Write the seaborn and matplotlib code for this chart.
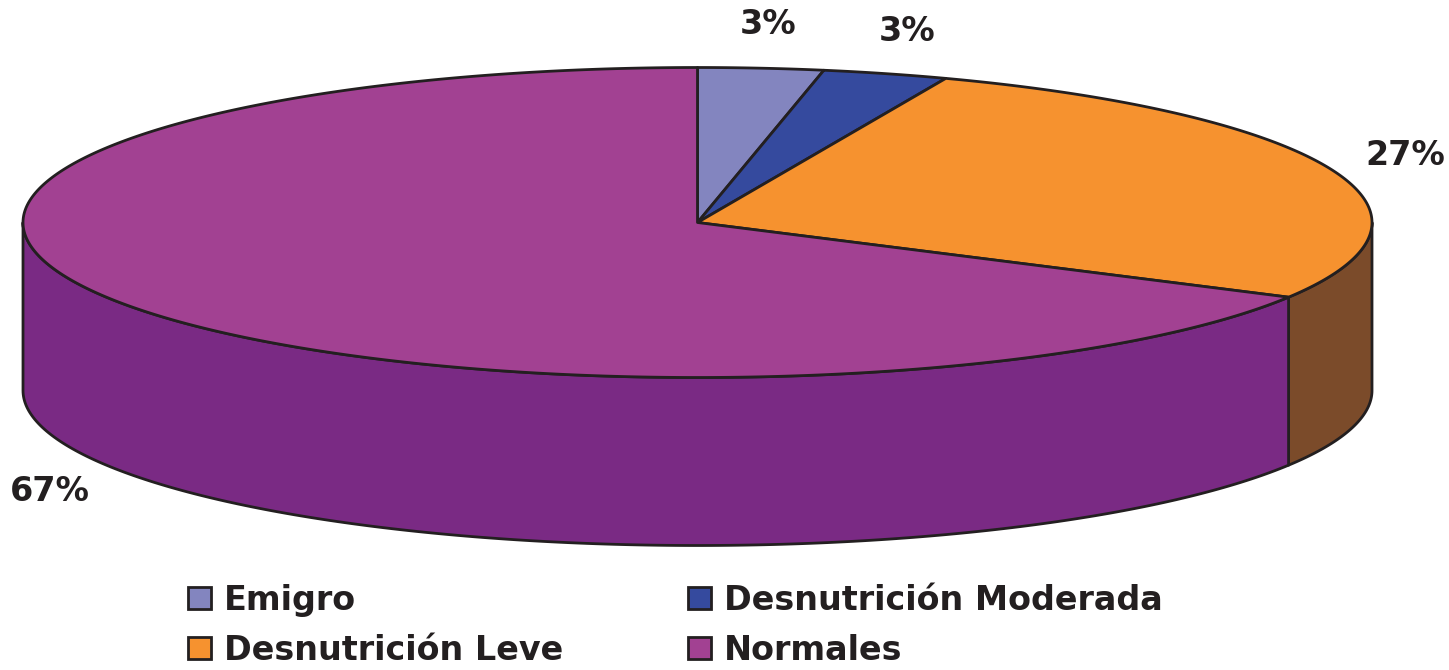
import numpy as np
import matplotlib
matplotlib.use("Agg")
import matplotlib.pyplot as plt
from matplotlib.patches import Polygon, Patch
import seaborn as sns

categories = ["Emigro", "Desnutrición Moderada", "Desnutrición Leve", "Normales"]
values = [3, 3, 27, 67]
labels = ["3%", "3%", "27%", "67%"]
top_colors = ["#8385BF", "#354A9E", "#F6922F", "#A24192"]
side_colors = ["#5E5F93", "#253473", "#7B4B2A", "#7A2A84"]

sns.set_theme(style="white")
plt.rcParams["font.family"] = ["DejaVu Sans"]

W, H = 1449, 670
fig = plt.figure(figsize=(W / 100, H / 100), dpi=100)
ax = fig.add_axes([0, 0, 1, 1])
ax.set_xlim(0, W)
ax.set_ylim(H, 0)
ax.axis("off")

cx, cy, a, b, depth = 697.5, 222.5, 674.5, 155.0, 168.0
edge = "#231F20"
lw = 2.0

total = float(sum(values))
bounds = np.concatenate([[0], np.cumsum(values)]) / total * 360.0


def pt(theta_deg, dy=0.0):
    t = np.radians(theta_deg)
    return cx + a * np.sin(t), cy - b * np.cos(t) + dy


# side walls (front half only: 90..270 deg)
for i in range(len(values)):
    t1, t2 = max(bounds[i], 90.0), min(bounds[i + 1], 270.0)
    if t2 <= t1:
        continue
    ts = np.linspace(t1, t2, 200)
    top = [pt(t) for t in ts]
    bot = [pt(t, depth) for t in ts[::-1]]
    ax.add_patch(Polygon(top + bot, closed=True, facecolor=side_colors[i],
                         edgecolor=edge, linewidth=lw, joinstyle="round", zorder=1))

# top faces
for i in range(len(values)):
    ts = np.linspace(bounds[i], bounds[i + 1], 400)
    poly = [(cx, cy)] + [pt(t) for t in ts]
    ax.add_patch(Polygon(poly, closed=True, facecolor=top_colors[i],
                         edgecolor=edge, linewidth=lw, joinstyle="round", zorder=2))

# percentage labels
for i in range(len(values)):
    mid = np.radians((bounds[i] + bounds[i + 1]) / 2)
    x = cx + 1.115 * a * np.sin(mid)
    y = cy - 1.28 * b * np.cos(mid)
    if np.cos(mid) < 0:
        y += depth
    ax.text(x, y, labels[i], ha="center", va="center", fontsize=24,
            fontweight="heavy", color="#231F20", zorder=5)

order = [0, 2, 1, 3]
handles = [Patch(facecolor=top_colors[k], edgecolor=edge, linewidth=2.0) for k in order]
leg = ax.legend(handles, [categories[k] for k in order], ncol=2,
                loc="upper left", bbox_to_anchor=(188 / W, 1 - 584 / H),
                frameon=False, prop={"size": 24, "weight": "heavy"},
                handlelength=0.68, handleheight=0.64, handletextpad=0.4,
                labelspacing=0.5, columnspacing=3.75, borderpad=0, borderaxespad=0)
for t in leg.get_texts():
    t.set_color("#231F20")

fig.savefig("out.png", dpi=100, facecolor="white")
